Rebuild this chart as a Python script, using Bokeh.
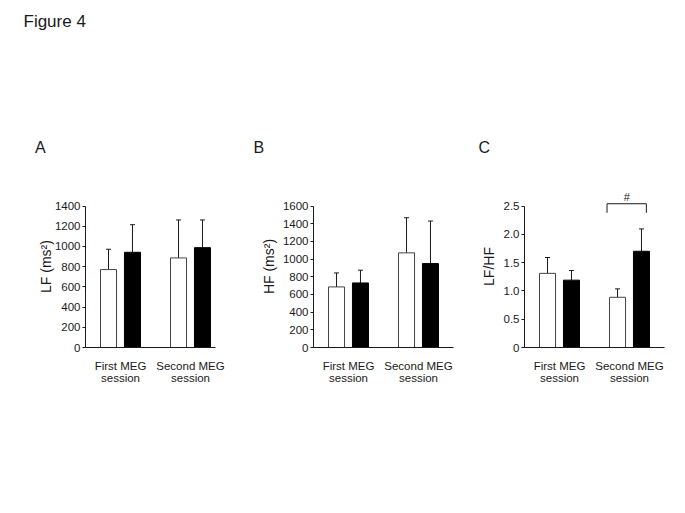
from bokeh.plotting import figure
from bokeh.models import ColumnDataSource, Range1d, FixedTicker, Whisker, TeeHead
from bokeh.layouts import column, row
from bokeh.embed import file_html
from bokeh.resources import INLINE
from bokeh.core.properties import value

# ---------------- data ----------------
sessions = ["First MEG\nsession", "Second MEG\nsession"]

lf_white_mean = [771, 886]
lf_white_sd = [201, 376]
lf_black_mean = [942, 988]
lf_black_sd = [273, 274]
lf_ticks = [0, 200, 400, 600, 800, 1000, 1200, 1400]

hf_white_mean = [685, 1070]
hf_white_sd = [158, 397]
hf_black_mean = [730, 949]
hf_black_sd = [144, 481]
hf_ticks = [0, 200, 400, 600, 800, 1000, 1200, 1400, 1600]

ratio_white_mean = [1.31, 0.887]
ratio_white_sd = [0.28, 0.149]
ratio_black_mean = [1.19, 1.70]
ratio_black_sd = [0.17, 0.395]
ratio_ticks = [0, 0.5, 1.0, 1.5, 2.0, 2.5]
ratio_tick_labels = ["0", "0.5", "1.0", "1.5", "2.0", "2.5"]
sig_level = 2.54          # height of the "#" bracket (LF/HF units)
sig_mark = "#"

header_texts = ["Figure 4", "A", "B", "C"]

FONT = "Liberation Sans"
INK = "#1a1a1a"
FRAME_H = 162
AXIS_PX = 141.5   # pixels from 0 to the top tick
GROUP_PX = 70.0   # pixels per group
TICK_FS = "11.5px"


def panel(wm, wsd, bm, bsd, ticks, ylabel, frame_w, bl, br, lab_standoff,
          tick_labels=None):
    top = ticks[-1] * FRAME_H / AXIS_PX
    p = figure(frame_width=frame_w, frame_height=FRAME_H,
               x_range=Range1d(0, frame_w / GROUP_PX), y_range=Range1d(0, top),
               output_backend="svg", toolbar_location=None,
               min_border_left=bl, min_border_right=br,
               min_border_top=17, min_border_bottom=50)
    p.outline_line_color = None
    p.grid.visible = False
    p.background_fill_color = "white"

    centers = [i + 0.5 for i in range(len(sessions))]
    off = 0.171
    bw = 0.229
    xw = [c - off for c in centers]
    xb = [c + off for c in centers]
    sw = ColumnDataSource(dict(x=xw, m=wm, up=[a + b for a, b in zip(wm, wsd)]))
    sb = ColumnDataSource(dict(x=xb, m=bm, up=[a + b for a, b in zip(bm, bsd)]))

    for src in (sw, sb):
        p.add_layout(Whisker(source=src, base="x", lower="m", upper="up",
                             line_color=INK, line_width=1,
                             lower_head=None,
                             upper_head=TeeHead(size=5, line_color=INK, line_width=1)))
    p.vbar(x="x", top="m", bottom=0, width=bw, source=sw,
           fill_color="white", line_color="#444444", line_width=1)
    p.vbar(x="x", top="m", bottom=0, width=bw, source=sb,
           fill_color="black", line_color="black", line_width=1)

    xa = p.xaxis[0]
    xa.ticker = FixedTicker(ticks=centers)
    xa.major_label_overrides = {c: s for c, s in zip(centers, sessions)}
    xa.major_tick_line_color = None
    xa.minor_tick_line_color = None
    xa.major_label_standoff = 6
    xa.axis_line_color = INK
    xa.major_label_text_font = FONT
    xa.major_label_text_font_size = TICK_FS
    xa.major_label_text_color = INK
    xa.major_label_text_line_height = 1.0

    ya = p.yaxis[0]
    ya.ticker = FixedTicker(ticks=ticks)
    ya.bounds = (0, ticks[-1])
    if tick_labels is not None:
        ya.major_label_overrides = {t: s for t, s in zip(ticks, tick_labels)}
    ya.minor_tick_line_color = None
    ya.major_tick_in = 0
    ya.major_tick_out = 3
    ya.major_tick_line_color = INK
    ya.axis_line_color = INK
    ya.major_label_standoff = 2
    ya.major_label_text_font = FONT
    ya.major_label_text_font_size = TICK_FS
    ya.major_label_text_color = INK
    ya.axis_label = ylabel
    ya.axis_label_standoff = lab_standoff
    ya.axis_label_text_font = FONT
    ya.axis_label_text_font_size = "14px"
    ya.axis_label_text_font_style = "normal"
    ya.axis_label_text_color = INK
    return p, xw, xb


pA, _, _ = panel(lf_white_mean, lf_white_sd, lf_black_mean, lf_black_sd,
                 lf_ticks, "LF (ms²)", 130, 85, 20, -2)
pB, _, _ = panel(hf_white_mean, hf_white_sd, hf_black_mean, hf_black_sd,
                 hf_ticks, "HF (ms²)", 140, 78, 10, 3)
pC, xw, xb = panel(ratio_white_mean, ratio_white_sd, ratio_black_mean, ratio_black_sd,
                   ratio_ticks, "LF/HF", 140, 61, 10, 4, ratio_tick_labels)

# significance bracket on second session (panel C)
bl_x = xw[1] - 0.15
br_x = xb[1] + 0.07
leg = 0.16
pC.line(x=[bl_x, bl_x, br_x, br_x],
        y=[sig_level - leg, sig_level, sig_level, sig_level - leg],
        line_color=INK, line_width=1)
pC.text(x=[(bl_x + br_x) / 2], y=[sig_level + 0.12], text=[sig_mark],
        text_font=value(FONT), text_font_size="11px", text_color=INK,
        text_align="center", text_baseline="alphabetic")

# header strip: title and panel letters (pixel coordinates)
H = 168
hdr = figure(width=676, height=H, x_range=Range1d(0, 676), y_range=Range1d(H, 0),
             output_backend="svg", toolbar_location=None,
             x_axis_location=None, y_axis_location=None, min_border=0)
hdr.outline_line_color = None
hdr.grid.visible = False
hdr.text(x=[23, 34.5, 253, 478], y=[21, 147, 147, 147], text=header_texts,
         text_font=value(FONT), text_font_size=["17px", "16px", "16px", "16px"],
         text_color=INK, text_align="left", text_baseline="alphabetic")

layout = column(hdr, row(pA, pB, pC))
open("out.html", "w").write(file_html(layout, INLINE))
